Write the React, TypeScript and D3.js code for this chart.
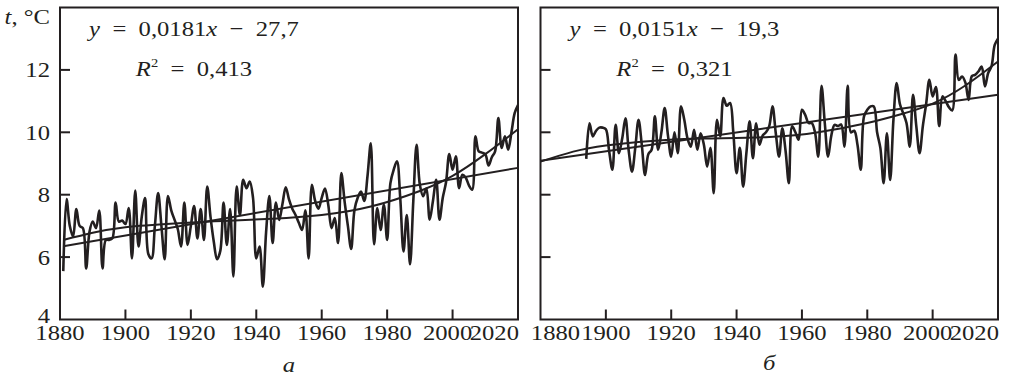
import React from 'react'
import * as d3 from 'd3'

// annual mean temperature, panel a starts 1881, panel б starts 1894
const startA = 1881
const tempsA = [
  5.55, 7.86, 7.0, 6.66, 7.54, 7.0, 6.93, 5.64, 6.8, 7.14,
  6.93, 7.49, 5.64, 6.55, 6.55, 6.6, 7.75, 7.14, 7.17, 7.06,
  7.57, 5.96, 8.13, 6.34, 7.3, 7.89, 6.1, 5.96, 7.0, 8.05,
  7.0, 5.93, 7.96, 7.5, 7.2, 6.9, 6.34, 7.75, 6.39, 7.0,
  7.64, 6.6, 7.54, 6.55, 8.26, 7.3, 6.5, 5.93, 6.2, 7.75,
  6.39, 7.54, 5.38, 8.26, 7.35, 8.48, 8.21, 8.42, 7.9, 5.96,
  6.34, 5.05, 6.8, 7.96, 6.45, 7.75, 7.19, 7.7, 8.24, 7.85,
  7.55, 7.35, 7.1, 6.87, 7.5, 5.96, 8.32, 7.8, 7.55, 7.9,
  8.2, 7.68, 6.93, 7.25, 6.45, 8.69, 7.78, 7.0, 6.26, 7.5,
  7.9, 8.1, 7.8, 8.6, 9.65, 6.41, 7.57, 6.87, 7.68, 6.55,
  8.37, 8.8, 9.07, 7.9, 6.18, 7.35, 5.77, 7.8, 9.6, 8.32,
  7.95, 8.2, 7.2, 7.8, 8.48, 7.2, 7.9, 8.4, 9.3, 8.8,
  9.23, 8.21, 8.64, 8.55, 8.3, 8.16, 9.87, 9.39, 9.35, 9.3,
  8.94, 9.2, 9.39, 10.46, 9.5, 9.87, 9.44, 10.0, 10.62, 10.87
]

const startB = 1894
const tempsB = [
  9.15, 10.29, 9.87, 10.05, 10.15, 10.15, 10.1,
  9.4, 8.8, 10.24, 9.33, 9.8, 10.45, 9.4, 8.74, 9.5, 10.4,
  9.6, 8.63, 9.3, 9.44, 10.51, 9.44, 10.0, 10.78, 9.9, 9.22,
  10.0, 9.33, 10.83, 10.4, 9.8, 9.54, 10.08, 9.44, 9.97, 9.6,
  8.9, 9.5, 8.05, 10.4, 9.87, 11.1, 10.85, 10.94, 10.0, 8.69,
  9.5, 8.26, 9.33, 10.35, 9.17, 10.29, 9.6, 9.9, 10.0, 10.2,
  10.83, 9.97, 9.22, 10.13, 9.4, 8.37, 10.19, 10.0, 9.76, 10.72,
  10.56, 10.3, 10.3, 10.0, 9.22, 11.49, 10.29, 9.22, 9.9, 10.24,
  10.2, 10.25, 9.54, 11.49, 10.0, 10.05, 9.6, 8.8, 10.51, 10.72,
  10.83, 10.83, 10.0, 9.5, 8.37, 9.97, 8.47, 10.4, 11.58, 10.9,
  10.61, 10.3, 9.54, 11.2, 10.2, 9.33, 10.2, 10.9, 11.68, 11.15,
  11.45, 10.2, 11.15, 11.0, 10.8, 10.7, 12.49, 11.68, 11.79, 11.6,
  11.04, 11.8, 11.84, 11.95, 12.11, 11.47, 11.9, 12.11, 12.8, 13.0
]

// polynomial trend
const polyA: [number, number][] = [
  [1881, 6.55], [1890, 6.78], [1900, 6.96], [1915, 7.08], [1930, 7.16], [1945, 7.23],
  [1960, 7.35], [1975, 7.62], [1990, 8.12], [2000, 8.6], [2010, 9.3], [2020, 10.1]
]
const polyB: [number, number][] = [
  [1880, 9.06], [1890, 9.38], [1900, 9.58], [1915, 9.73], [1930, 9.8], [1950, 9.85],
  [1965, 10.0], [1980, 10.3], [1990, 10.57], [2000, 10.92], [2010, 11.5], [2020, 12.27]
]

// linear trend ends
const linearA: [number, number][] = [[1881, 6.35], [2020, 8.86]]
const linearB: [number, number][] = [[1880, 9.09], [2020, 11.2]]

const slopes = ['0,0181', '0,0151']
const intercepts = ['27,7', '19,3']
const rSquared = ['0,413', '0,321']
const panelTags = ['а', 'б']

const xTicks = [1880, 1900, 1920, 1940, 1960, 1980, 2000, 2020]
const yTicks = [4, 6, 8, 10, 12]

/**
 * LAYOUT
 */
const W = 1012
const H = 376
const plotTop = 7.5
const plotBottom = 319.5
const panelX = [[60, 518], [540.5, 998]]
const ink = '#231f20'
const font = 'Liberation Serif'
const SX = 1.12 // the source type is set a bit wider than Times
const fs = 22

const yScale = d3.scaleLinear().domain([4, 14]).range([plotBottom, plotTop])

type TxtProps = { x: number; y: number; anchor?: string; size?: number; italic?: boolean; children: React.ReactNode }
const Txt = ({ x, y, anchor = 'middle', size = fs, italic, children }: TxtProps) => (
  <text
    transform={`translate(${x},${y}) scale(${SX},1)`}
    textAnchor={anchor}
    fontSize={size}
    fontStyle={italic ? 'italic' : 'normal'}
    fill={ink}
    style={{ fontFamily: font }}
  >
    {children}
  </text>
)

type PanelProps = {
  idx: number;
  start: number;
  temps: number[];
  poly: [number, number][];
  linear: [number, number][];
}

const Panel = ({ idx, start, temps, poly, linear }: PanelProps) => {
  const [x0, x1] = panelX[idx]
  const xScale = d3.scaleLinear().domain([1880, 2020]).range([x0, x1])
  const pts: [number, number][] = temps.map((t, i) => [start + i, t])

  const smooth = d3.line<[number, number]>()
    .x(d => xScale(d[0]))
    .y(d => yScale(d[1]))
    .curve(d3.curveCatmullRom.alpha(0.5))
  const trend = d3.line<[number, number]>()
    .x(d => xScale(d[0]))
    .y(d => yScale(d[1]))
    .curve(d3.curveNatural)

  const cx = x0 + 134

  return (
    <g>
      <path d={trend(poly) || ''} fill='none' stroke={ink} strokeWidth={2} />
      <path d={trend(linear) || ''} fill='none' stroke={ink} strokeWidth={2} />
      <path d={smooth(pts) || ''} fill='none' stroke={ink} strokeWidth={2.6} strokeLinejoin='round' />

      <rect x={x0} y={plotTop} width={x1 - x0} height={plotBottom - plotTop} fill='none' stroke={ink} strokeWidth={2} />

      {yTicks.filter(v => v > 4).map(v => (
        <line key={`yt${v}`} x1={x0} x2={x0 + 10} y1={yScale(v)} y2={yScale(v)} stroke={ink} strokeWidth={2} />
      ))}
      {xTicks.filter(v => v > 1880 && v < 2020).map(v => (
        <line key={`xt${v}`} x1={xScale(v)} x2={xScale(v)} y1={plotBottom} y2={plotBottom - 10} stroke={ink} strokeWidth={2} />
      ))}

      {xTicks.map(v => {
        let lx = xScale(v)
        let anchor = 'middle'
        if (v === 2020) { lx = x1 + 1; anchor = 'end' }
        if (v === 2000) lx -= 5
        if (v === 1880 && idx === 1) lx += 15
        return <Txt key={`xl${v}`} x={lx} y={340} anchor={anchor}>{v}</Txt>
      })}

      {idx === 0 && yTicks.map(v => (
        <Txt key={`yl${v}`} x={50} y={yScale(v) + (v === 4 ? 3.5 : 7.5)} anchor='end'>{v}</Txt>
      ))}

      <text transform={`translate(${cx},36) scale(${SX},1)`} textAnchor='middle' fontSize={fs} fill={ink} style={{ fontFamily: font }}>
        <tspan fontStyle='italic'>y</tspan>
        <tspan>{`\u2002=\u2002${slopes[idx]}`}</tspan>
        <tspan fontStyle='italic'>x</tspan>
        <tspan>{`\u2002\u2212\u2002${intercepts[idx]}`}</tspan>
      </text>
      <text transform={`translate(${cx},76) scale(${SX},1)`} textAnchor='middle' fontSize={fs} fill={ink} style={{ fontFamily: font }}>
        <tspan fontStyle='italic'>R</tspan>
        <tspan fontSize={13} dy={-9}>2</tspan>
        <tspan dy={9}>{`\u2002=\u2002${rSquared[idx]}`}</tspan>
      </text>

      <Txt x={(x0 + x1) / 2} y={idx === 0 ? 372 : 370} italic>{panelTags[idx]}</Txt>
    </g>
  )
}

const App = () => {
  return (
    <svg
      width={W}
      height={H}
      viewBox={`0 0 ${W} ${H}`}
      style={{ position: 'absolute', left: 0, top: 0, background: '#fff' }}
    >
      <rect width={W} height={H} fill='#fff' />
      <text transform={`translate(50,24) scale(${SX},1)`} textAnchor='end' fontSize={fs} fill={ink} style={{ fontFamily: font }}>
        <tspan fontStyle='italic'>t</tspan>
        <tspan>, °C</tspan>
      </text>
      <Panel idx={0} start={startA} temps={tempsA} poly={polyA} linear={linearA} />
      <Panel idx={1} start={startB} temps={tempsB} poly={polyB} linear={linearB} />
    </svg>
  )
}

export default App
